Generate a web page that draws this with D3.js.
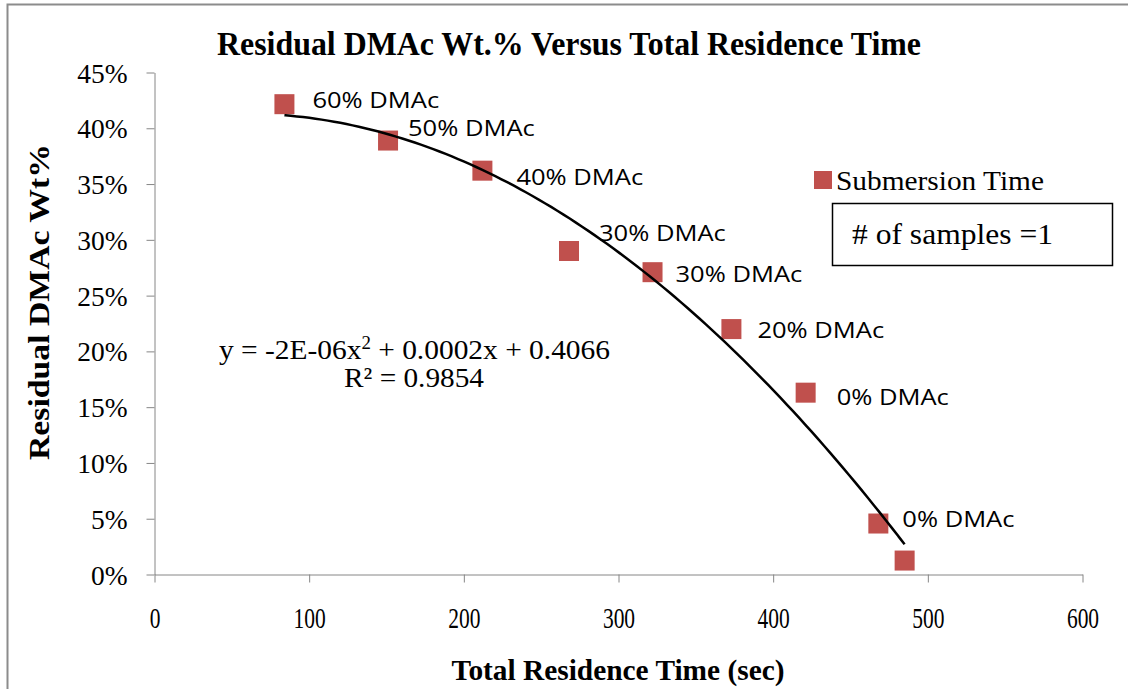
<!DOCTYPE html>
<html>
<head>
<meta charset="utf-8">
<script src="https://cdn.jsdelivr.net/npm/d3@7"></script>
<style>
  body { margin: 0; background: #fff; }
  svg { display: block; }
</style>
</head>
<body>
<script>
// residence time (sec) and residual DMAc fraction
var residenceTime = [84, 151, 212, 268, 322, 373, 421, 468, 485];
var residualWt = [0.4216, 0.389, 0.362, 0.290, 0.271, 0.220, 0.163, 0.0457, 0.0125];
var pointLabels = ["60% DMAc", "50% DMAc", "40% DMAc", "30% DMAc", "30% DMAc", "20% DMAc", "0% DMAc", "0% DMAc", ""];
// label nudges in px from the marker (x to left edge, y to text middle)
var labelNudge = [[28, -4], [20, -12], [34, 6], [30, -18], [23, 2], [26, 1], [31, 4], [24, -4], [0, 0]];

var xTicks = [0, 100, 200, 300, 400, 500, 600];
var yTicks = [0, 0.05, 0.10, 0.15, 0.20, 0.25, 0.30, 0.35, 0.40, 0.45];

var chartTitle = "Residual DMAc Wt.% Versus Total Residence Time";
var xTitle = "Total Residence Time (sec)";
var yTitle = "Residual DMAc Wt%";
var seriesName = "Submersion Time";
var noteText = "# of samples =1";
var eqLine1 = "y = -2E-06x";
var eqLine1b = " + 0.0002x + 0.4066";
var eqLine2 = "R\u00b2 = 0.9854";

var svgWidth = 1128;
var svgHeight = 689;
var serif = "'Liberation Serif', 'Times New Roman', serif";
var sans = "'Open Sans', 'Liberation Sans', sans-serif";
var axisGray = "#868686";
var red = "#C0504D";

var svg = d3.select("body").append("svg")
    .attr("width", svgWidth)
    .attr("height", svgHeight);

// outer frame (only left and top edges visible)
svg.append("path")
    .attr("d", "M7.5,689 V4.5 H1128")
    .attr("fill", "none")
    .attr("stroke", "#8c8c8c")
    .attr("stroke-width", 2);

var xScale = d3.scaleLinear().domain([0, 600]).range([154.5, 1082.5]);
var yScale = d3.scaleLinear().domain([0, 0.45]).range([574.5, 72.5]);

// squeeze or stretch text to a given width
function fitWidth(sel, w) {
    sel.attr("textLength", w).attr("lengthAdjust", "spacingAndGlyphs");
}
function stretch(sel, k) {
    sel.each(function () {
        var w = this.getComputedTextLength();
        if (w > 0) d3.select(this).attr("textLength", w * k).attr("lengthAdjust", "spacingAndGlyphs");
    });
}

// axes
var xAxis = d3.axisBottom(xScale).tickValues(xTicks).tickSize(8).tickSizeOuter(0).tickFormat(d3.format("d"));
var yAxis = d3.axisLeft(yScale).tickValues(yTicks).tickSize(8).tickSizeOuter(0).tickFormat(d3.format(".0%"));

var gx = svg.append("g")
    .attr("transform", "translate(0," + yScale(0) + ")")
    .call(xAxis);
gx.select(".domain").attr("stroke", axisGray);
gx.selectAll(".tick line").attr("stroke", axisGray);
gx.selectAll(".tick text")
    .attr("fill", "#000")
    .attr("font-family", serif)
    .style("font-size", "29px")
    .attr("y", 33)
    .attr("dy", "0.71em")
    .call(stretch, 0.74);

var gy = svg.append("g")
    .attr("transform", "translate(" + xScale(0) + ",0)")
    .call(yAxis);
gy.select(".domain").attr("stroke", axisGray);
gy.selectAll(".tick line").attr("stroke", axisGray);
gy.selectAll(".tick text")
    .attr("fill", "#000")
    .attr("font-family", serif)
    .style("font-size", "28px")
    .attr("x", -27)
    .attr("dy", "0.34em")
    .call(stretch, 0.98);

// polynomial (order 2) least squares trendline
function quadFit(xs, ys) {
    var s = [0, 0, 0, 0, 0], t = [0, 0, 0];
    xs.forEach(function (x, i) {
        for (var k = 0; k < 5; k++) s[k] += Math.pow(x, k);
        for (var k2 = 0; k2 < 3; k2++) t[k2] += ys[i] * Math.pow(x, k2);
    });
    var A = [[s[0], s[1], s[2], t[0]], [s[1], s[2], s[3], t[1]], [s[2], s[3], s[4], t[2]]];
    for (var c = 0; c < 3; c++) {
        for (var r = c + 1; r < 3; r++) {
            var f = A[r][c] / A[c][c];
            for (var j = c; j < 4; j++) A[r][j] -= f * A[c][j];
        }
    }
    var b = [0, 0, 0];
    for (var r2 = 2; r2 >= 0; r2--) {
        var v = A[r2][3];
        for (var j2 = r2 + 1; j2 < 3; j2++) v -= A[r2][j2] * b[j2];
        b[r2] = v / A[r2][r2];
    }
    return b;
}
var coef = quadFit(residenceTime, residualWt);
var xMin = d3.min(residenceTime), xMax = d3.max(residenceTime);
var trend = d3.range(0, 101).map(function (i) {
    var x = xMin + (xMax - xMin) * i / 100;
    return [x, coef[0] + coef[1] * x + coef[2] * x * x];
});

var points = residenceTime.map(function (t, i) {
    return { t: t, w: residualWt[i], label: pointLabels[i], nudge: labelNudge[i] };
});

// markers
svg.append("g").selectAll("rect")
    .data(points)
    .join("rect")
    .attr("x", d => xScale(d.t) - 10)
    .attr("y", d => yScale(d.w) - 10)
    .attr("width", 20)
    .attr("height", 20)
    .attr("fill", red);

svg.append("path")
    .datum(trend)
    .attr("fill", "none")
    .attr("stroke", "#000")
    .attr("stroke-width", 2.5)
    .attr("d", d3.line().x(d => xScale(d[0])).y(d => yScale(d[1])).curve(d3.curveBasis));

// data labels
svg.append("g").selectAll("text")
    .data(points.filter(d => d.label))
    .join("text")
    .attr("x", d => xScale(d.t) + d.nudge[0])
    .attr("y", d => yScale(d.w) + d.nudge[1])
    .attr("dy", "0.36em")
    .attr("font-family", sans)
    .attr("font-size", 22)
    .attr("fill", "#000")
    .text(d => d.label)
    .call(stretch, 1.16);

// trendline equation
var eq = svg.append("text")
    .attr("x", 219)
    .attr("y", 359)
    .attr("font-family", serif)
    .attr("font-size", 28)
    .attr("fill", "#000");
eq.append("tspan").text(eqLine1);
eq.append("tspan").attr("font-size", 18).attr("dy", -10).text("2");
eq.append("tspan").attr("dy", 10).text(eqLine1b);
fitWidth(eq, 391);

svg.append("text")
    .attr("x", 344)
    .attr("y", 387)
    .attr("font-family", serif)
    .attr("font-size", 28)
    .attr("fill", "#000")
    .text(eqLine2)
    .call(fitWidth, 140);

// title and axis titles
svg.append("text")
    .attr("x", 569)
    .attr("y", 55)
    .attr("text-anchor", "middle")
    .attr("font-family", serif)
    .attr("font-weight", "bold")
    .attr("font-size", 33)
    .text(chartTitle)
    .call(fitWidth, 704);

svg.append("text")
    .attr("x", 618)
    .attr("y", 680)
    .attr("text-anchor", "middle")
    .attr("font-family", serif)
    .attr("font-weight", "bold")
    .attr("font-size", 30)
    .text(xTitle)
    .call(fitWidth, 333);

svg.append("text")
    .attr("transform", "translate(49,302) rotate(-90)")
    .attr("text-anchor", "middle")
    .attr("font-family", serif)
    .attr("font-weight", "bold")
    .attr("font-size", 29)
    .text(yTitle)
    .call(fitWidth, 316);

// legend
svg.append("rect")
    .attr("x", 814).attr("y", 171)
    .attr("width", 18).attr("height", 18)
    .attr("fill", red);
svg.append("text")
    .attr("x", 836)
    .attr("y", 190)
    .attr("font-family", serif)
    .attr("font-size", 28)
    .text(seriesName)
    .call(fitWidth, 208);

// note box
svg.append("rect")
    .attr("x", 832.5).attr("y", 203.5)
    .attr("width", 280).attr("height", 62)
    .attr("fill", "#fff")
    .attr("stroke", "#000")
    .attr("stroke-width", 1.5);
svg.append("text")
    .attr("x", 852)
    .attr("y", 244)
    .attr("font-family", serif)
    .attr("font-size", 29)
    .text(noteText)
    .call(fitWidth, 201);
</script>
</body>
</html>
